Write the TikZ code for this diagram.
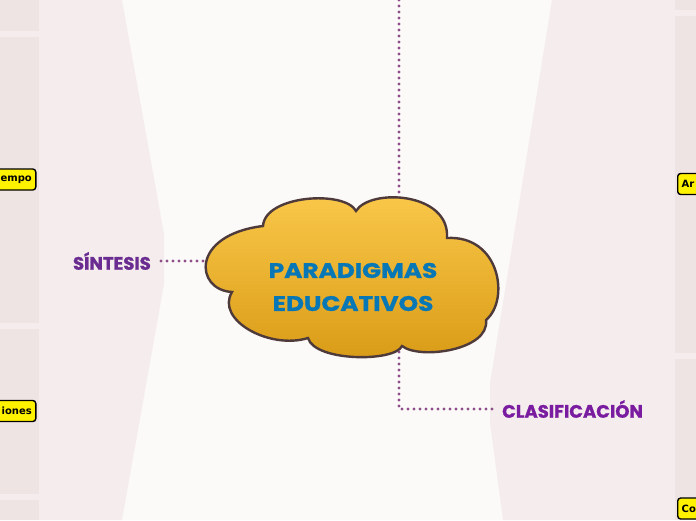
\documentclass[tikz,border=0pt]{standalone}
\usepackage{fontspec}
\setmainfont{DejaVu Sans}
\newfontfamily\titlefont{Poppins}[FakeBold=1.2]
\newfontfamily\cloudfont{Poppins}[FakeStretch=1.18, FakeBold=1.2]
\usetikzlibrary{positioning}

\definecolor{pagebg}{HTML}{FCF9F9}
\definecolor{panelbg}{HTML}{F5EDED}
\definecolor{stripbg}{HTML}{EFE4E4}
\definecolor{linkcol}{HTML}{8E4E8A}
\definecolor{sintcol}{HTML}{6A2C90}
\definecolor{clascol}{HTML}{7A1CA0}
\definecolor{cloudtxt}{HTML}{0877B6}
\definecolor{cloudhi}{HTML}{FBC94B}
\definecolor{cloudlo}{HTML}{D99B16}
\definecolor{cloudline}{HTML}{4E3A3A}
\definecolor{tagfill}{HTML}{FFF200}

\tikzset{
  link/.style={linkcol, line width=3.4pt, line cap=round, dash pattern=on 0pt off 6pt},
  tag/.style={draw=black, line width=1.4pt, fill=tagfill, rounded corners=3pt,
    font=\bfseries\fontsize{10}{12}\selectfont, minimum height=21pt,
    inner ysep=0pt, inner xsep=4pt, text width=40pt},
  topic/.style={font=\titlefont\bfseries\fontsize{18}{20}\selectfont, inner sep=0pt},
}

\begin{document}
\begin{tikzpicture}[x=1pt, y=-1pt]
  \useasboundingbox (0,0) rectangle (696,520);
  \clip (0,0) rectangle (696,520);
  \fill[pagebg] (0,0) rectangle (696,520);

  % side panels
  \fill[panelbg] (0,0) -- (122,0) -- (164,234) -- (164,284) -- (122,520) -- (0,520) -- cycle;
  \fill[panelbg] (696,0) -- (552,0) -- (490,383) -- (490,423) -- (503,520) -- (696,520) -- cycle;
  \foreach \ya/\yb in {0/31, 37/322.5, 329/494, 500/520}
    \fill[stripbg] (0,\ya) rectangle (39,\yb);
  \foreach \ya/\yb in {0/10, 16/353, 359/520}
    \fill[stripbg] (675,\ya) rectangle (696,\yb);

  % tags cut by the page edge
  \node[tag, align=right, anchor=east] (tiempo) at (36.5,179.5) {empo};
  \node[tag, align=right, anchor=east] (iones) at (36.5,411) {iones};
  \node[tag, align=left, anchor=west] (ar) at (677,184) {Ar};
  \node[tag, align=left, anchor=west] (co) at (677,508.5) {Co};

  % branches
  \coordinate (topedge) at (399,0);
  \coordinate (cloudN) at (399,198);
  \coordinate (cloudS) at (399,346);
  \coordinate (cloudW) at (205,261);
  \node[topic, sintcol, anchor=east] (sintesis) at (151,261) {SÍNTESIS};
  \node[topic, clascol, anchor=west] (clasif) at (502,409) {CLASIFICACIÓN};
  \draw[link] (topedge) -- (cloudN);
  \draw[link, shorten <=10pt] (sintesis.east) -- (cloudW);
  \draw[link, shorten >=8pt] (cloudS) |- (clasif.west);

  % central cloud
  \path[draw=cloudline, line width=2.4pt, top color=cloudhi, bottom color=cloudlo]
    (232,292) .. controls (195,290) and (190,235) .. (263,226)
    .. controls (265,195) and (345,190) .. (356,211)
    .. controls (370,188) and (450,192) .. (447,238)
    .. controls (500,235) and (510,300) .. (486,320)
    .. controls (490,350) and (420,360) .. (402,346)
    .. controls (395,362) and (315,362) .. (308,338)
    .. controls (270,350) and (215,320) .. cycle;
  \node[font=\cloudfont\bfseries\fontsize{21}{33}\selectfont, cloudtxt, align=center]
    (paradigmas) at (353,287) {PARADIGMAS\\EDUCATIVOS};
\end{tikzpicture}
\end{document}
